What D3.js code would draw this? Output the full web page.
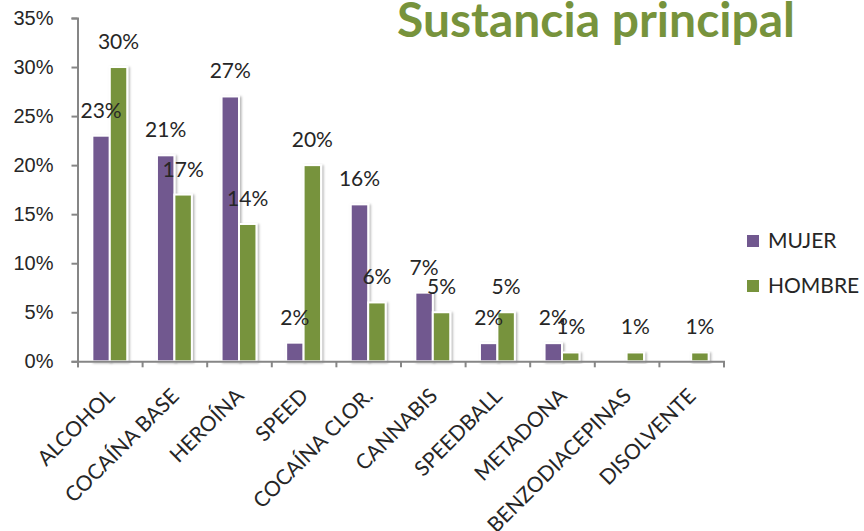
<!DOCTYPE html>
<html>
<head>
<meta charset="utf-8">
<script src="https://cdn.jsdelivr.net/npm/d3@7"></script>
<style>
  body { margin: 0; background: #fff; }
  svg { font-family: Lato, "Open Sans", sans-serif; }
</style>
</head>
<body>
<svg id="chart" width="864" height="531"></svg>
<script>
// datos
const categories = ["ALCOHOL", "COCAÍNA BASE", "HEROÍNA", "SPEED", "COCAÍNA CLOR.",
                    "CANNABIS", "SPEEDBALL", "METADONA", "BENZODIACEPINAS", "DISOLVENTE"];
const series = ["MUJER", "HOMBRE"];
const mujer  = [23, 21, 27, 1.9, 16, 7, 1.85, 1.85, 0, 0];
const hombre = [30, 17, 14, 20, 6, 5, 5, 0.9, 0.9, 0.9];
const yTicks = [0, 5, 10, 15, 20, 25, 30, 35];

const colors = {MUJER: "#71588f", HOMBRE: "#77933c"};
const values = {MUJER: mujer, HOMBRE: hombre};

const svg = d3.select("#chart");
const plotLeft = 77.5, plotRight = 723.5, plotTop = 18, plotBottom = 361.3;

const x0 = d3.scaleBand().domain(categories).range([plotLeft, plotRight])
    .paddingInner(0.46).paddingOuter(0.23);
const x1 = d3.scaleBand().domain(series).range([0, x0.bandwidth()]);
const y = d3.scaleLinear().domain([0, 35]).range([plotBottom, plotTop]);
const xb = d3.scaleLinear().domain([0, categories.length]).range([plotLeft, plotRight]);

// sombra de las barras
const defs = svg.append("defs");
defs.append("filter").attr("id", "shadow")
    .attr("x", "-30%").attr("y", "-10%").attr("width", "160%").attr("height", "130%")
  .append("feDropShadow")
    .attr("dx", 1.5).attr("dy", 1).attr("stdDeviation", 1)
    .attr("flood-color", "#000").attr("flood-opacity", 0.3);

// eje y
const yAxis = svg.append("g")
    .attr("transform", `translate(${plotLeft},0)`)
    .call(d3.axisLeft(y).tickValues(yTicks).tickSize(6).tickPadding(18)
        .tickFormat(d => d + "%"));
yAxis.selectAll("text").style("font-size", "20px").attr("fill", "#262626");

const rows = s => values[s].map((v, i) => ({s: s, cat: categories[i], v: v})).filter(d => d.v > 0);
const allRows = series.flatMap(rows);

// barras
svg.append("g").selectAll("rect")
    .data(allRows)
    .enter().append("rect")
    .attr("x", d => x0(d.cat) + x1(d.s))
    .attr("y", d => y(d.v))
    .attr("width", x1.bandwidth())
    .attr("height", d => y(0) - y(d.v))
    .attr("fill", d => colors[d.s])
    .attr("stroke", "#fff")
    .attr("stroke-width", 2)
    .attr("filter", "url(#shadow)");

// eje x: marcas entre categorías
svg.append("g")
    .attr("transform", `translate(0,${plotBottom})`)
    .call(d3.axisBottom(xb).tickValues(d3.range(categories.length + 1)).tickSize(6).tickFormat(""));

svg.selectAll(".domain, .tick line")
    .attr("stroke", "#868686").attr("stroke-width", 2);

// etiquetas de datos (encima de todas las barras)
const fmt = d3.format(".0%");
svg.append("g").selectAll("text")
    .data(allRows)
    .enter().append("text")
    .attr("x", d => x0(d.cat) + x1(d.s) + x1.bandwidth() / 2)
    .attr("y", d => y(d.v) - 18)
    .attr("text-anchor", "middle")
    .attr("fill", "#262626")
    .style("font-size", "21px")
    .text(d => fmt(d.v / 100));

// nombres de categorías
svg.append("g").selectAll("text")
    .data(categories).enter().append("text")
    .attr("transform", d => `translate(${x0(d) + x0.bandwidth() / 2 + 6},${plotBottom + 36}) rotate(-45)`)
    .attr("text-anchor", "end")
    .attr("fill", "#262626")
    .style("font-size", "21px")
    .text(d => d);

// leyenda
const legend = svg.append("g").selectAll("g")
    .data(series).enter().append("g")
    .attr("transform", (d, i) => `translate(747,${235 + i * 45})`);
legend.append("rect").attr("width", 12).attr("height", 12).attr("fill", d => colors[d]);
legend.append("text").attr("x", 21).attr("y", 13)
    .attr("fill", "#262626").style("font-size", "21px").text(d => d);

// título
svg.append("text")
    .attr("x", 397).attr("y", 37)
    .attr("fill", "#77933c")
    .style("font-size", "48px").style("font-weight", "bold")
    .text("Sustancia principal");
</script>
</body>
</html>
